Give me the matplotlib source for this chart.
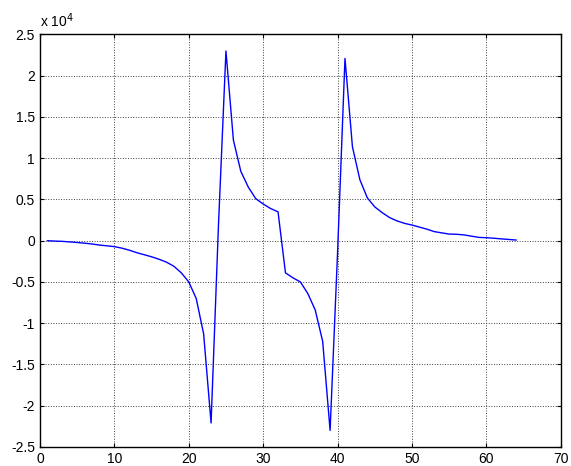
import numpy as np
import matplotlib.pyplot as plt
from matplotlib.ticker import FuncFormatter

plt.rcParams['font.family'] = ['Liberation Sans', 'DejaVu Sans']
plt.rcParams['axes.unicode_minus'] = False

# ---------- DATA ----------
# sample index 1..64 (units of 1e4)
sample_idx = list(range(1, 65))
response_e4 = [
    0.0, -0.005, -0.008, -0.015, -0.022, -0.03, -0.04, -0.053, -0.062, -0.072,
    -0.09, -0.115, -0.145, -0.17, -0.195, -0.225, -0.26, -0.31, -0.39, -0.5,
    -0.7, -1.13, -2.21, 0.2, 2.30, 1.22, 0.84, 0.65, 0.51, 0.445,
    0.39, 0.35, -0.39, -0.45, -0.50, -0.64, -0.84, -1.22, -2.30, -0.15,
    2.21, 1.14, 0.74, 0.52, 0.41, 0.34, 0.28, 0.24, 0.21, 0.19,
    0.165, 0.14, 0.11, 0.095, 0.08, 0.078, 0.07, 0.055, 0.04, 0.036,
    0.03, 0.022, 0.015, 0.008,
]
response = np.array(response_e4) * 1e4

x_ticks = list(range(0, 71, 10))
y_ticks = [v * 5000 for v in range(-5, 6)]


# ---------- PLOT ----------
fig = plt.figure(figsize=(5.71, 4.66), dpi=100)
ax = fig.add_axes([0.070, 0.041, 0.912, 0.885])

ax.plot(sample_idx, response, color='#0000ff', linewidth=1.0)

ax.set_xlim(0, 70)
ax.set_ylim(-25000, 25000)
ax.set_xticks(x_ticks)
ax.set_yticks(y_ticks)
ax.yaxis.set_major_formatter(FuncFormatter(lambda v, p: f"{v / 1e4:g}"))

ax.grid(True, linestyle=':', color='#404040', linewidth=0.7)
ax.tick_params(direction='in', top=True, right=True, length=3,
               labelsize=10, width=0.8)
for s in ax.spines.values():
    s.set_linewidth(1.0)

ax.text(0.0, 1.012, r'x 10$^4$', transform=ax.transAxes,
        ha='left', va='bottom', fontsize=10)

fig.savefig('out.png', dpi=100)
